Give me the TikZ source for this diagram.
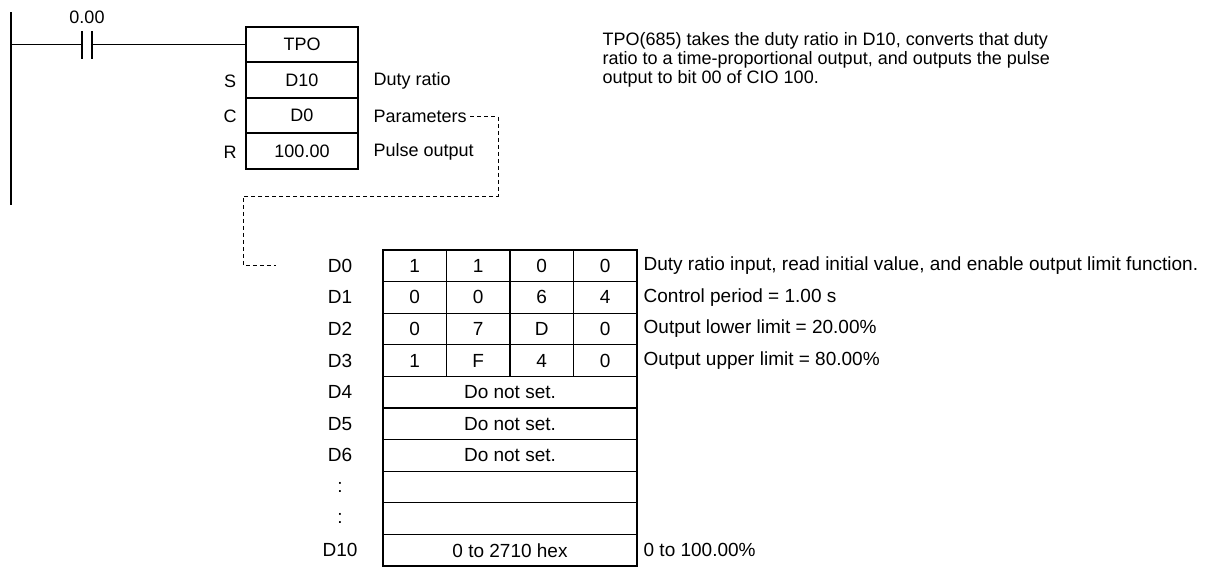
\documentclass[tikz,border=0pt]{standalone}
\usepackage{fontspec}
\setmainfont{Liberation Sans}
\begin{document}
\begin{tikzpicture}[x=1pt,y=-1pt,line width=1.3pt,
  txt/.style={font=\fontsize{18}{19}\selectfont,inner sep=0pt},
  ttxt/.style={font=\fontsize{19}{20}\selectfont,inner sep=0pt},
  cell/.style={draw,line width=1.3pt,minimum height=31.6pt,inner sep=0pt,font=\fontsize{19}{20}\selectfont},
  tbox/.style={draw,line width=1.8pt,minimum width=112pt,minimum height=35.5pt,inner sep=0pt,font=\fontsize{18}{19}\selectfont},
  dsh/.style={dashed,line width=1pt,dash pattern=on 4pt off 3pt}]
\useasboundingbox (0,0) rectangle (1220,576);
% ladder
\draw (11,12) -- (11,205);
\node[tbox] (tpo) at (302,44.5) {TPO};
\node[tbox] (s) at (302,80) {D10};
\node[tbox] (c) at (302,115.5) {D0};
\node[tbox] (r) at (302,151) {100.00};
\coordinate (c1) at (82,44.5); \coordinate (c2) at (92,44.5);
\draw (11,44.5) -- (c1); \draw (82,31) -- (82,59); \draw (92,31) -- (92,59);
\node[txt] (contact) at (87,17) {0.00};
\draw (c2) -- (tpo.west);
\node[txt] at (230,81) {S};
\node[txt] at (230,116.5) {C};
\node[txt] at (230,152) {R};
\node[txt,anchor=west] at (373,81) {Duty ratio};
\node[txt,anchor=west] (par) at (373,116.5) {Parameters};
\node[txt,anchor=west] at (373,152) {Pulse output};
\node[txt,anchor=north west,align=left] at (602,32) {TPO(685) takes the duty ratio in D10, converts that duty\\ratio to a time-proportional output, and outputs the pulse\\output to bit 00 of CIO 100.};
% table
\foreach \i/\a/\b/\cc/\d/\lab/\desc in {0/1/1/0/0/D0/{Duty ratio input, read initial value, and enable output limit function.},1/0/0/6/4/D1/{Control period = 1.00 s},2/0/7/D/0/D2/{Output lower limit = 20.00\%},3/1/F/4/0/D3/{Output upper limit = 80.00\%}}{
  \pgfmathsetmacro\yy{265.8+31.6*\i}
  \node[cell,minimum width=63.5pt] (r\i a) at (414.75,\yy) {\a};
  \node[cell,minimum width=63.5pt] (r\i b) at (478.25,\yy) {\b};
  \node[cell,minimum width=63.5pt] (r\i c) at (541.75,\yy) {\cc};
  \node[cell,minimum width=63.5pt] (r\i d) at (605.25,\yy) {\d};
  \node[ttxt] (l\i) at (340,\yy) {\lab};
  \node[ttxt,anchor=west] at (643,\yy) {\desc};
}
\foreach \i/\lab/\t in {4/D4/Do not set.,5/D5/Do not set.,6/D6/Do not set.,7/:/,8/:/,9/D10/0 to 2710 hex}{
  \pgfmathsetmacro\yy{265.8+31.6*\i}
  \node[cell,minimum width=254pt] (w\i) at (510,\yy) {\t};
  \node[ttxt] (l\i) at (340,\yy) {\lab};
}
\node[ttxt,anchor=west] at (643,550.2) {0 to 100.00\%};
% dashed connector
\draw[dsh] (par.east) ++(3,0) -| (498,196) -| (243,265) -- (276,265);
\end{tikzpicture}
\end{document}
